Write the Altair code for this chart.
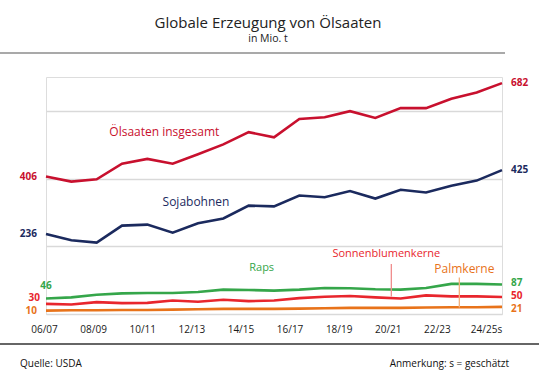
import altair as alt
import pandas as pd

seasons = ['06/07', '07/08', '08/09', '09/10', '10/11', '11/12', '12/13', '13/14', '14/15', '15/16',
           '16/17', '17/18', '18/19', '19/20', '20/21', '21/22', '22/23', '23/24', '24/25s']
oelsaaten = [406, 391, 398, 444, 458, 444, 472, 501, 537, 522, 576, 581, 599, 579, 608, 608, 636, 654, 682]
soja = [236, 218, 211, 261, 264, 240, 268, 282, 320, 318, 350, 345, 363, 341, 367, 359, 379, 394, 425]
raps = [46, 49, 57, 61, 62, 62, 65, 72, 71, 69, 72, 77, 76, 73, 72, 77, 89, 89, 87]
sonne = [30, 28, 35, 32, 33, 40, 36, 42, 38, 40, 47, 51, 53, 49, 46, 55, 52, 52, 50]
palm = [10, 11, 11, 12, 12, 13, 14, 15, 15, 15, 16, 17, 18, 18, 18, 19, 20, 20, 21]

series_names = ['Ölsaaten insgesamt', 'Sojabohnen', 'Raps', 'Sonnenblumenkerne', 'Palmkerne']
series_values = [oelsaaten, soja, raps, sonne, palm]
colors = ['#c8102e', '#1b2a5e', '#35a64a', '#e8262d', '#e8731a']
leader_colors = ['#f08c8c', '#f4b07c']

FONT = 'Open Sans'

rows = []
for name, vals in zip(series_names, series_values):
    for s, v in zip(seasons, vals):
        rows.append({'Saison': s, 'Wert': v, 'Reihe': name})
df = pd.DataFrame(rows)

xscale = alt.Scale(type='point', padding=0, domain=seasons)
yscale = alt.Scale(domain=[0, 700], nice=False, zero=True)
cscale = alt.Scale(domain=series_names, range=colors)

base = alt.Chart(df)

lines = base.mark_line(strokeWidth=2.6).encode(
    x=alt.X('Saison:O', scale=xscale, sort=seasons,
            axis=alt.Axis(values=seasons[::2], title=None, labelAngle=0, domain=False, ticks=False,
                          grid=False, labelFont=FONT, labelFontSize=10, labelColor='#1a1a1a',
                          labelPadding=10, labelOffset=alt.ExprRef('-2 - 14*datum.index'))),
    y=alt.Y('Wert:Q', scale=yscale,
            axis=alt.Axis(values=list(range(0, 701, 100)), title=None, labels=False, ticks=False,
                          domain=False, grid=True, gridColor='#d9d9d9', gridWidth=1.3)),
    color=alt.Color('Reihe:N', scale=cscale, legend=None),
)


def text_layer(data, **kw):
    return alt.Chart(pd.DataFrame(data)).mark_text(font=FONT, **kw).encode(
        x=alt.X('Saison:O', scale=xscale, sort=seasons),
        y=alt.Y('Wert:Q', scale=yscale),
        text='text:N',
        color=alt.Color('Reihe:N', scale=cscale, legend=None),
    )


VAL_SIZE = 10

# start values (left)
left_main = text_layer({
    'Saison': [seasons[0]] * 3,
    'Wert': [oelsaaten[0], soja[0], palm[0]],
    'text': [str(oelsaaten[0]), str(soja[0]), str(palm[0])],
    'Reihe': ['Ölsaaten insgesamt', 'Sojabohnen', 'Palmkerne'],
}, align='right', dx=-9, fontSize=VAL_SIZE, fontWeight='bold')
left_sonne = text_layer({
    'Saison': [seasons[0]], 'Wert': [sonne[0]], 'text': [str(sonne[0])], 'Reihe': ['Sonnenblumenkerne'],
}, align='right', dx=-6, dy=-6, fontSize=VAL_SIZE, fontWeight='bold')
left_raps = text_layer({
    'Saison': [seasons[0]], 'Wert': [raps[0]], 'text': [str(raps[0])], 'Reihe': ['Raps'],
}, align='center', dx=0, dy=-12, fontSize=VAL_SIZE, fontWeight='bold')

# end values (right)
right_big = text_layer({
    'Saison': [seasons[-1]] * 2,
    'Wert': [oelsaaten[-1], soja[-1]],
    'text': [str(oelsaaten[-1]), str(soja[-1])],
    'Reihe': ['Ölsaaten insgesamt', 'Sojabohnen'],
}, align='left', dx=9, fontSize=VAL_SIZE, fontWeight='bold')
right_raps = text_layer({
    'Saison': [seasons[-1]], 'Wert': [raps[-1]], 'text': [str(raps[-1])], 'Reihe': ['Raps'],
}, align='left', dx=9, dy=-1.5, fontSize=VAL_SIZE, fontWeight='bold')
right_sonne = text_layer({
    'Saison': [seasons[-1]], 'Wert': [sonne[-1]], 'text': [str(sonne[-1])], 'Reihe': ['Sonnenblumenkerne'],
}, align='left', dx=9, dy=-1, fontSize=VAL_SIZE, fontWeight='bold')
right_palm = text_layer({
    'Saison': [seasons[-1]], 'Wert': [palm[-1]], 'text': [str(palm[-1])], 'Reihe': ['Palmkerne'],
}, align='left', dx=9, dy=2.5, fontSize=VAL_SIZE, fontWeight='bold')

# series names
name_oel = text_layer({'Saison': ['10/11'], 'Wert': [538], 'text': ['Ölsaaten insgesamt'],
                       'Reihe': ['Ölsaaten insgesamt']}, align='center', dx=17, fontSize=12)
name_soja = text_layer({'Saison': ['12/13'], 'Wert': [332], 'text': ['Sojabohnen'],
                        'Reihe': ['Sojabohnen']}, align='center', dx=-2, fontSize=12)
name_raps = text_layer({'Saison': ['14/15'], 'Wert': [137], 'text': ['Raps'],
                        'Reihe': ['Raps']}, align='center', dx=13, fontSize=11)
name_sonne = text_layer({'Saison': ['19/20'], 'Wert': [176], 'text': ['Sonnenblumenkerne'],
                         'Reihe': ['Sonnenblumenkerne']}, align='center', dx=11, fontSize=11)
name_palm = text_layer({'Saison': ['22/23'], 'Wert': [134], 'text': ['Palmkerne'],
                        'Reihe': ['Palmkerne']}, align='center', dx=13, fontSize=12)

lead_sonne = alt.Chart(pd.DataFrame({'Saison': ['19/20'], 'y': [148], 'y2': [52]})).mark_rule(
    xOffset=16, strokeWidth=1.3, color=leader_colors[0]).encode(
    x=alt.X('Saison:O', scale=xscale, sort=seasons), y=alt.Y('y:Q', scale=yscale), y2='y2:Q')
lead_palm = alt.Chart(pd.DataFrame({'Saison': ['22/23'], 'y': [108], 'y2': [19]})).mark_rule(
    xOffset=8, strokeWidth=1.3, color=leader_colors[1]).encode(
    x=alt.X('Saison:O', scale=xscale, sort=seasons), y=alt.Y('y:Q', scale=yscale), y2='y2:Q')

# decoration: separator lines and footer
deco = alt.Chart(pd.DataFrame({'d': [0]}))
top_sep = deco.mark_rule(color='#8c8c8c', strokeWidth=1.5).encode(
    x=alt.value(-46), x2=alt.value(459), y=alt.value(-24))
bottom_sep = deco.mark_rule(color='#333333', strokeWidth=1.5).encode(
    x=alt.value(-46), x2=alt.value(493), y=alt.value(267))
source = deco.mark_text(font=FONT, fontSize=10, align='left', baseline='middle', color='#111').encode(
    x=alt.value(-26), y=alt.value(287), text=alt.value('Quelle: USDA'))
note = deco.mark_text(font=FONT, fontSize=10, align='right', baseline='middle', color='#111').encode(
    x=alt.value(463), y=alt.value(287), text=alt.value('Anmerkung: s = geschätzt'))

chart = alt.layer(
    lines, lead_sonne, lead_palm,
    left_main, left_sonne, left_raps, right_big, right_raps, right_sonne, right_palm,
    name_oel, name_soja, name_raps, name_sonne, name_palm,
    top_sep, bottom_sep, source, note,
).properties(
    width=456, height=237,
    autosize=alt.AutoSizeParams(type='none'),
    padding={'left': 46, 'top': 77, 'right': 37, 'bottom': 62},
    title=alt.Title(text='Globale Erzeugung von Ölsaaten', subtitle='in Mio. t', anchor='middle',
                    font=FONT, fontSize=15, fontWeight='normal', color='#222',
                    subtitleFont=FONT, subtitleFontSize=10.5, subtitleColor='#222',
                    subtitlePadding=3, offset=8, dx=-6),
).configure_view(stroke=None).configure(background='white')

chart.save('out.html', embed_options={'renderer': 'svg', 'actions': False})
